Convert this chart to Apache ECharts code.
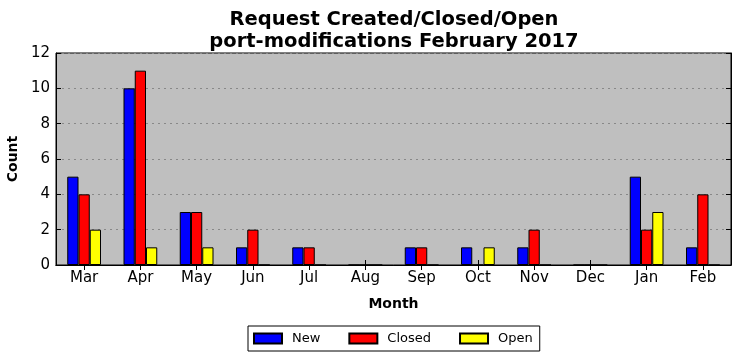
<!DOCTYPE html>
<html><head><meta charset="utf-8">
<script src="https://cdn.jsdelivr.net/npm/echarts@6/dist/echarts.min.js"></script>
<style>html,body{margin:0;padding:0;background:#fff}#c{width:740px;height:361px}</style>
</head><body><div id="c"></div>
<script>
const months = ['Mar','Apr','May','Jun','Jul','Aug','Sep','Oct','Nov','Dec','Jan','Feb'];
const newVals = [5,10,3,1,1,0,1,1,1,0,5,1];
const closedVals = [4,11,3,2,1,0,1,0,2,0,2,4];
const openVals = [2,1,1,0,0,0,0,1,0,0,3,0];
const yTicks = [0,2,4,6,8,10,12];

const FONT = 'DejaVu Sans';
const chart = echarts.init(document.getElementById('c'));
function bar(name, data, color){
  return {name, type:'bar', data, barGap:'0%', barCategoryGap:'40%',
    itemStyle:{color, borderColor:'#000', borderWidth:1}, emphasis:{disabled:true}};
}
chart.setOption({
  animation:false,
  textStyle:{fontFamily:FONT},
  title:{text:'Request Created/Closed/Open\nport-modifications February 2017', left:389, textAlign:'center', top:4,
    textStyle:{fontFamily:FONT, fontSize:19.5, fontWeight:'bold', color:'#000', lineHeight:22}},
  grid:{left:56, right:9, top:53, bottom:96, show:true, backgroundColor:'#bfbfbf', borderColor:'#000', borderWidth:1,
    outerBoundsMode:'none', containLabel:false},
  legend:{bottom:10, left:248, data:['New','Closed','Open'], icon:'rect', itemWidth:28, itemHeight:10, itemGap:28,
    borderColor:'#000', borderWidth:1, padding:[6,7,6,5], borderRadius:0,
    textStyle:{fontFamily:FONT, fontSize:13, color:'#000', padding:[0,0,0,5]}},
  xAxis:[{type:'category', data:months, position:'bottom', name:'Month', nameLocation:'middle', nameGap:32,
    nameTextStyle:{fontFamily:FONT, fontSize:14, fontWeight:'bold', color:'#000'},
    axisLine:{show:true, lineStyle:{color:'#000'}},
    axisTick:{show:true, inside:true, alignWithLabel:true, length:5, lineStyle:{color:'#000'}},
    axisLabel:{fontFamily:FONT, fontSize:15, color:'#000', margin:6}},
   {type:'category', data:months, position:'top',
    axisLine:{show:true, lineStyle:{color:'#000'}},
    axisTick:{show:true, inside:true, alignWithLabel:true, length:5, lineStyle:{color:'#000'}},
    axisLabel:{show:false}}],
  yAxis:[{type:'value', min:0, max:12, interval:2, name:'Count', nameLocation:'middle', nameGap:33,
    nameTextStyle:{fontFamily:FONT, fontSize:14, fontWeight:'bold', color:'#000'},
    axisLine:{show:true, lineStyle:{color:'#000'}},
    axisTick:{show:true, inside:true, length:5, lineStyle:{color:'#000'}},
    axisLabel:{fontFamily:FONT, fontSize:15, color:'#000', margin:6, formatter:v=>yTicks.includes(v)?String(v):''},
    splitLine:{show:true, lineStyle:{color:'#888', type:[2,4], width:1}}},
   {type:'value', min:0, max:12, interval:2, position:'right',
    axisLine:{show:true, lineStyle:{color:'#000'}},
    axisTick:{show:true, inside:true, length:5, lineStyle:{color:'#000'}},
    axisLabel:{show:false}, splitLine:{show:false}}],
  series:[bar('New', newVals, '#0000ff'), bar('Closed', closedVals, '#ff0000'), bar('Open', openVals, '#ffff00')]
});
</script></body></html>
